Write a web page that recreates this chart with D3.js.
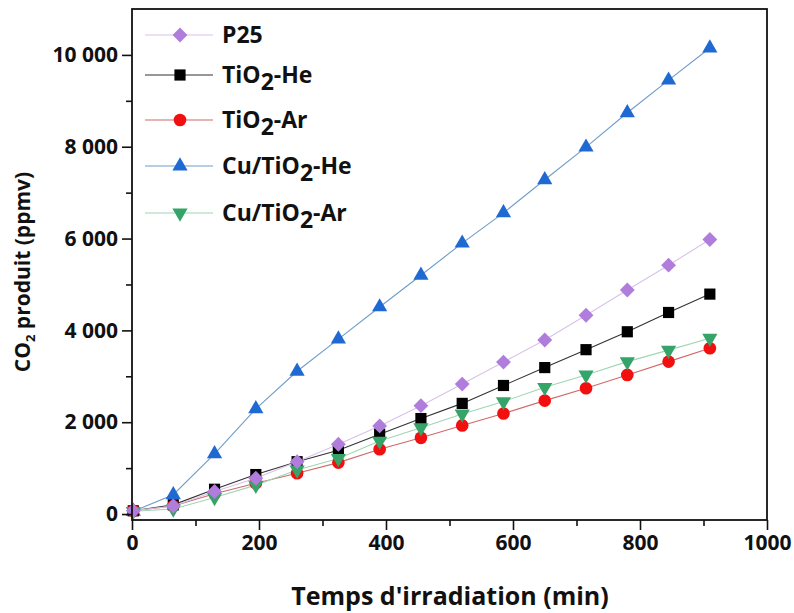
<!DOCTYPE html>
<html><head><meta charset="utf-8">
<script src="https://cdn.jsdelivr.net/npm/d3@7"></script>
<style>
html,body{margin:0;padding:0;background:#fff;}
text{font-family:"Open Sans","DejaVu Sans",sans-serif;font-weight:700;fill:#111;}
</style></head>
<body>
<svg id="chart" width="794" height="613"></svg>
<script>
const time = [2, 65, 130, 195, 260, 325, 390, 455, 520, 585, 650, 715, 780, 845, 910];
const p25      = [70, 175, 490, 780, 1140, 1520, 1920, 2360, 2830, 3310, 3790, 4330, 4880, 5420, 5980];
const tio2He   = [70, 200, 540, 860, 1140, 1390, 1740, 2080, 2410, 2800, 3190, 3580, 3970, 4390, 4790];
const tio2Ar   = [70, 175, 440, 670, 890, 1120, 1410, 1660, 1930, 2190, 2470, 2740, 3030, 3320, 3610];
const cuTio2He = [60, 420, 1310, 2290, 3110, 3810, 4510, 5200, 5900, 6560, 7280, 7990, 8740, 9450, 10150];
const cuTio2Ar = [60, 110, 360, 630, 960, 1210, 1590, 1880, 2180, 2450, 2760, 3030, 3320, 3570, 3830];

const xTicks = [0, 200, 400, 600, 800, 1000];
const xMinorTicks = [100, 300, 500, 700, 900];
const yTicks = [0, 2000, 4000, 6000, 8000, 10000];
const yTickLabels = ["0", "2 000", "4 000", "6 000", "8 000", "10 000"];
const yMinorTicks = [1000, 3000, 5000, 7000, 9000];

// legend labels: [before subscript, subscript, after]
const legendLabels = [
  ["P25", "", ""],
  ["TiO", "2", "-He"],
  ["TiO", "2", "-Ar"],
  ["Cu/TiO", "2", "-He"],
  ["Cu/TiO", "2", "-Ar"]
];

const series = [
  {key: "cuHe", values: cuTio2He, color: "#1f6ad2", line: "#6f9cc8", shape: "triUp"},
  {key: "tiHe", values: tio2He, color: "#000000", line: "#333333", shape: "square"},
  {key: "tiAr", values: tio2Ar, color: "#f20f0f", line: "#cf6a6a", shape: "circle"},
  {key: "cuAr", values: cuTio2Ar, color: "#35a468", line: "#9fd6b4", shape: "triDown"},
  {key: "p25", values: p25, color: "#b07ddc", line: "#d8c2ea", shape: "diamond"}
];
const legendKeys = ["p25", "tiHe", "tiAr", "cuHe", "cuAr"];

const svg = d3.select("#chart");
const L = 132, R = 767, T = 9, B = 520;
const x = d3.scaleLinear().domain([0, 1000]).range([L, R]);
const y = d3.scaleLinear().domain([-130, 11000]).range([B, T]);

function symbolPath(shape){
  if (shape === "square") return d3.symbol(d3.symbolSquare, 125)();
  if (shape === "circle") return d3.symbol(d3.symbolCircle, 125)();
  if (shape === "diamond") return d3.symbol(d3.symbolSquare, 110)();
  return d3.symbol(d3.symbolTriangle, 100)();
}
function symbolRot(shape){
  if (shape === "diamond") return 45;
  if (shape === "triDown") return 180;
  return 0;
}

const line = d3.line().x((d,i)=>x(time[i])).y(d=>y(d));
series.forEach(s=>{
  svg.append("path").attr("d", line(s.values)).attr("fill","none")
    .attr("stroke", s.line).attr("stroke-width", 1.1);
});
series.forEach(s=>{
  svg.append("g").selectAll("path").data(s.values).join("path")
    .attr("d", symbolPath(s.shape))
    .attr("transform", (d,i)=>`translate(${x(time[i])},${y(d)}) rotate(${symbolRot(s.shape)})`)
    .attr("fill", s.color);
});

svg.append("rect").attr("x", L).attr("y", T).attr("width", R-L).attr("height", B-T)
  .attr("fill","none").attr("stroke","#111").attr("stroke-width",1.8);

const xa = svg.append("g").attr("transform",`translate(0,${B})`)
  .call(d3.axisBottom(x).tickValues(xTicks).tickSize(10).tickPadding(5).tickFormat(d3.format("d")));
xa.select(".domain").remove();
xa.selectAll("line").attr("stroke","#111").attr("stroke-width",1.6);
xa.selectAll("text").attr("font-size",21).attr("fill","#111");
const xm = svg.append("g").attr("transform",`translate(0,${B})`)
  .call(d3.axisBottom(x).tickValues(xMinorTicks).tickSize(6).tickFormat(""));
xm.select(".domain").remove();
xm.selectAll("line").attr("stroke","#111").attr("stroke-width",1.6);

const ya = svg.append("g").attr("transform",`translate(${L},0)`)
  .call(d3.axisLeft(y).tickValues(yTicks).tickSize(10).tickPadding(4)
  .tickFormat((d,i)=>yTickLabels[i]));
ya.select(".domain").remove();
ya.selectAll("line").attr("stroke","#111").attr("stroke-width",1.6);
ya.selectAll("text").attr("font-size",21).attr("fill","#111");
const ym = svg.append("g").attr("transform",`translate(${L},0)`)
  .call(d3.axisLeft(y).tickValues(yMinorTicks).tickSize(6).tickFormat(""));
ym.select(".domain").remove();
ym.selectAll("line").attr("stroke","#111").attr("stroke-width",1.6);

svg.append("text").attr("x", 450).attr("y", 605).attr("text-anchor","middle")
  .attr("font-size",25).text("Temps d'irradiation (min)");
const yt = svg.append("text").attr("transform",`translate(30,272) rotate(-90)`)
  .attr("text-anchor","middle").attr("font-size",21);
yt.append("tspan").text("CO");
yt.append("tspan").attr("font-size",13).attr("dy",5).text("2");
yt.append("tspan").attr("dy",-5).text(" produit (ppmv)");

const legendY = [35, 75, 120, 166, 213];
legendKeys.forEach((k,i)=>{
  const s = series.find(z=>z.key===k);
  const g = svg.append("g").attr("transform",`translate(0,${legendY[i]})`);
  g.append("line").attr("x1",145).attr("x2",213).attr("y1",0).attr("y2",0)
    .attr("stroke", s.line).attr("stroke-width",1.1);
  g.append("path").attr("d", symbolPath(s.shape))
    .attr("transform",`translate(180,0) rotate(${symbolRot(s.shape)})`).attr("fill", s.color);
  const lab = legendLabels[i];
  const t = g.append("text").attr("x",222).attr("y",8).attr("font-size",23);
  t.append("tspan").text(lab[0]);
  if (lab[1]) {
    t.append("tspan").attr("dy",7).text(lab[1]);
    t.append("tspan").attr("dy",-7).text(lab[2]);
  }
});
</script>
</body></html>
